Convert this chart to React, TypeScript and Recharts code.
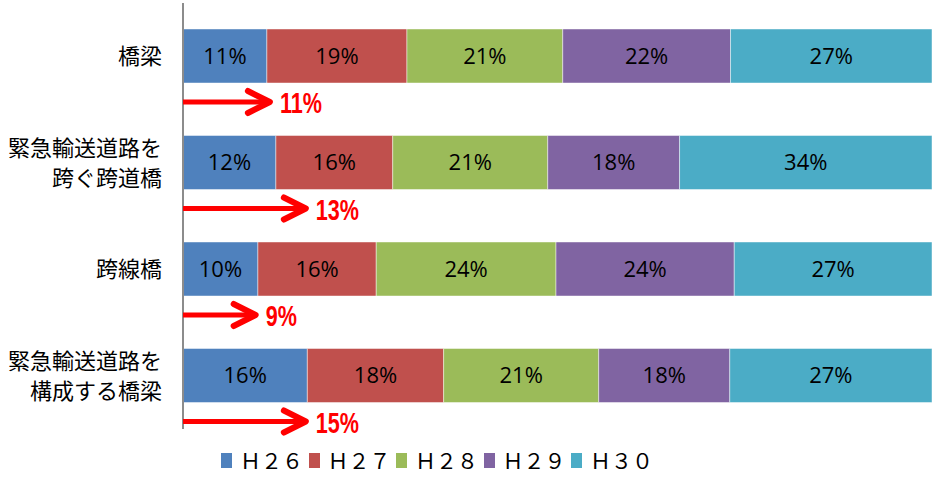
import React from 'react';
import { BarChart, Bar, XAxis, YAxis, LabelList, Legend } from 'recharts';

const categories = ['橋梁', '緊急輸送道路を\n跨ぐ跨道橋', '跨線橋', '緊急輸送道路を\n構成する橋梁'];
const seriesNames = ['Ｈ２６', 'Ｈ２７', 'Ｈ２８', 'Ｈ２９', 'Ｈ３０'];
const seriesKeys = ['H26', 'H27', 'H28', 'H29', 'H30'];
const colors = ['#4F81BD', '#C0504D', '#9BBB59', '#8064A2', '#4BACC6'];

const h26 = [11.2, 12.4, 10.0, 16.6];
const h27 = [18.7, 15.6, 15.8, 18.2];
const h28 = [20.8, 20.7, 24.0, 20.7];
const h29 = [22.4, 17.6, 23.8, 17.5];
const h30 = [26.9, 33.7, 26.4, 27.0];

const h26Labels = ['11%', '12%', '10%', '16%'];
const h27Labels = ['19%', '16%', '16%', '18%'];
const h28Labels = ['21%', '21%', '24%', '21%'];
const h29Labels = ['22%', '18%', '24%', '18%'];
const h30Labels = ['27%', '34%', '27%', '27%'];

const arrowReach = [11.6, 16.4, 9.7, 16.4];
const arrowLabels = ['11%', '13%', '9%', '15%'];

const values = [h26, h27, h28, h29, h30];
const labels = [h26Labels, h27Labels, h28Labels, h29Labels, h30Labels];

const data = categories.map((name, i) => {
  const row: any = { name, arrow: arrowReach[i], arrowLabel: arrowLabels[i] };
  seriesKeys.forEach((k, s) => {
    row[k] = values[s][i];
    row[k + 'Label'] = labels[s][i];
  });
  return row;
});

const W = 933;
const H = 477;
const SHIFT = 46;
const LEGEND_H = 21;

const CatTick = (props: any) => {
  const { x, y, payload } = props;
  const lines = String(payload.value).split('\n');
  const lh = 30;
  const start = -((lines.length - 1) * lh) / 2;
  return (
    <g>
      {lines.map((l: string, i: number) => (
        <text
          key={i}
          x={x - 21}
          y={y + start + i * lh}
          dy={8}
          textAnchor="end"
          fontSize={22}
          fontFamily="'Noto Sans CJK JP', sans-serif"
          fill="#000"
        >
          {l}
        </text>
      ))}
    </g>
  );
};

const ArrowShape = (props: any) => {
  const { x, y, width, height, payload } = props;
  const yc = y + height / 2;
  const tip = x + width;
  return (
    <g>
      <line x1={x} y1={yc} x2={tip - 3} y2={yc} stroke="#FF0000" strokeWidth={5} />
      <polyline
        points={`${tip - 22},${yc - 11} ${tip},${yc} ${tip - 22},${yc + 11}`}
        fill="none"
        stroke="#FF0000"
        strokeWidth={6}
        strokeLinecap="round"
        strokeLinejoin="round"
      />
      <text
        transform={`translate(${tip + 10},${yc + 11}) scale(0.72,1)`}
        fontSize={30}
        fontWeight="bold"
        fontFamily="'Liberation Sans', Arial, sans-serif"
        fill="#FF0000"
      >
        {payload.arrowLabel}
      </text>
    </g>
  );
};

const LegendContent = () => (
  <div style={{ display: 'flex', paddingLeft: 221, alignItems: 'center', height: LEGEND_H }}>
    {seriesNames.map((n, i) => (
      <div key={n} style={{ display: 'flex', alignItems: 'center', width: 87.5 }}>
        <div style={{ width: 11, height: 15, background: colors[i], marginRight: 8 }} />
        <span
          style={{
            fontSize: 21,
            fontFamily: "'Noto Sans CJK JP', sans-serif",
            color: '#000',
            lineHeight: '21px',
          }}
        >
          {n}
        </span>
      </div>
    ))}
  </div>
);

export default function App() {
  return (
    <div style={{ position: 'absolute', left: 0, top: 0, width: W, height: H, background: '#fff' }}>
      <div style={{ position: 'absolute', left: 0, top: 0 }}>
        <BarChart
          width={W}
          height={H}
          data={data}
          layout="vertical"
          margin={{ top: 3, right: 1, bottom: 48 - LEGEND_H, left: 0 }}
          barSize={54}
        >
          <XAxis type="number" domain={[0, 100]} hide allowDataOverflow />
          <YAxis
            type="category"
            dataKey="name"
            width={183}
            axisLine={{ stroke: '#8C8C8C', strokeWidth: 2 }}
            tickLine={false}
            tickSize={0}
            tickMargin={0}
            tick={<CatTick />}
            interval={0}
          />
          <Legend
            content={<LegendContent />}
            wrapperStyle={{ left: 0, top: 450, width: W, height: LEGEND_H }}
          />
          {seriesKeys.map((k, i) => (
            <Bar
              key={k}
              dataKey={k}
              name={seriesNames[i]}
              stackId="a"
              fill={colors[i]}
              stroke="rgba(255,255,255,0.45)"
              strokeWidth={1}
              isAnimationActive={false}
            >
              <LabelList
                dataKey={k + 'Label'}
                position="center"
                fill="#000"
                fontSize={22}
                fontFamily="'Open Sans', sans-serif"
              />
            </Bar>
          ))}
        </BarChart>
      </div>
      <div style={{ position: 'absolute', left: 0, top: 0, pointerEvents: 'none' }}>
        <BarChart
          width={W}
          height={H}
          data={data}
          layout="vertical"
          margin={{ top: 3 + SHIFT, right: 1, bottom: 48 - SHIFT, left: 183 }}
          barSize={26}
        >
          <XAxis type="number" domain={[0, 100]} hide allowDataOverflow />
          <YAxis type="category" dataKey="name" hide />
          <Bar dataKey="arrow" fill="#FF0000" shape={<ArrowShape />} isAnimationActive={false} />
        </BarChart>
      </div>
    </div>
  );
}
